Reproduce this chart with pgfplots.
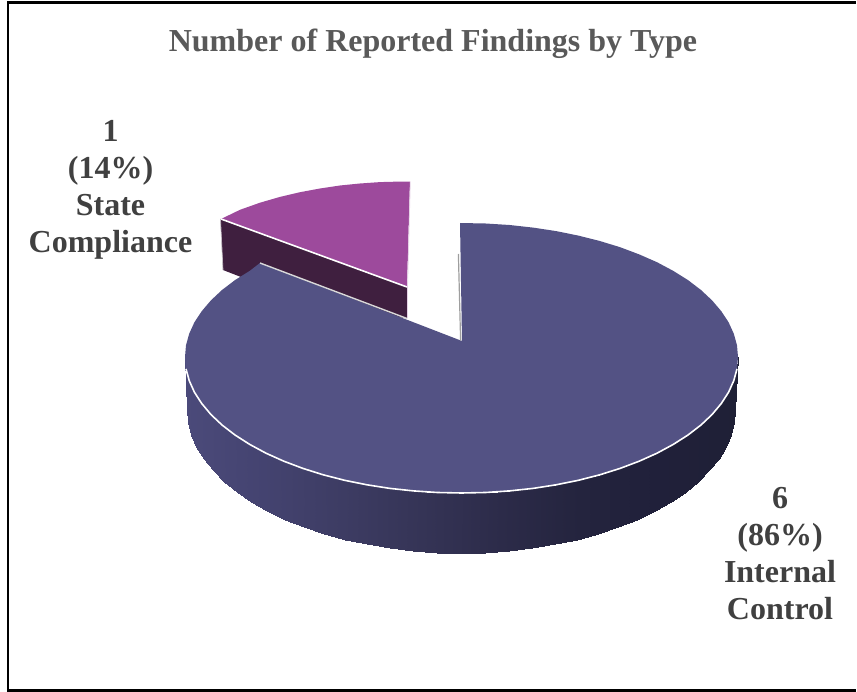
\documentclass[border=0pt]{standalone}
\usepackage{fontspec}
\setmainfont{Liberation Serif}
\usepackage{pgfplots}
\pgfplotsset{compat=1.18}

\definecolor{topblue}{RGB}{83,82,132}
\definecolor{toppurple}{RGB}{157,74,156}
\definecolor{sidepurple}{RGB}{63,31,63}
\definecolor{titlegray}{RGB}{89,89,89}
\definecolor{labelgray}{RGB}{64,64,64}

% values: Internal Control 6, State Compliance 1 (6/7 and 1/7 of the pie)
% all outlines are in reference pixels, y going down
\begin{document}
\begin{tikzpicture}
\begin{axis}[
    scale only axis,
    width=857pt,
    height=692pt,
    xmin=0, xmax=857,
    ymin=0, ymax=692,
    y dir=reverse,
    hide axis,
    clip=false,
    colormap={sidewall}{rgb255=(75,74,122) rgb255=(68,67,112) rgb255=(61,60,99) rgb255=(53,52,86)
        rgb255=(44,43,73) rgb255=(36,36,62) rgb255=(32,32,58) rgb255=(31,32,54)},
]
% hide axis leaves the box to what is drawn, so keep the page at full size
\path (axis cs:0,0) rectangle (axis cs:857,692);

% frame: runs off the right edge of the picture (square cap reaches x=857)
\addplot[black, line width=2.6pt, line cap=square] coordinates {(855.7,2.5) (8,2.5) (8,690.5) (855.7,690.5)};

% State Compliance: side then top
\addplot[fill=sidepurple, draw=none] coordinates {(220.5,219) (407,287) (407,318.5) (300,300) (223,270)} --cycle;
\addplot[fill=toppurple, draw=none] coordinates {
    (221,219) (240,209.8) (260,202.7) (280,196.9) (300,192.2) (320,188.5) (340,185.5)
    (360,183.5) (380,182.1) (395,181.7) (410,181.6) (407,287)} --cycle;
\addplot[white, line width=1.6pt] coordinates {(221,219) (407,287)};
\addplot[color=white!75!toppurple, line width=0.8pt] coordinates {(410.3,181.6) (407.5,287) (407.5,318)};
\addplot[color=white!70!sidepurple, line width=0.7pt] coordinates {(220.5,219) (223,270)};

% Internal Control: side wall
\addplot[surf, shader=interp, point meta=x, mesh/cols=2] table {
x y
738 357
735 410
737 368.9
734 422.5
733.8 380.6
730.8 434.8
728.6 392.2
725.7 447
721.3 403.5
718.5 458.9
712.1 414.5
709.3 470.4
701 425
698.3 481.5
688 435
685.5 492
673.3 444.4
670.9 501.9
657 453.2
654.7 511.1
639.2 461.2
637.1 519.5
620.1 468.4
618.2 527.1
599.8 474.8
598 533.8
578.4 480.3
576.8 539.6
556.1 484.8
554.7 544.4
533.1 488.4
531.9 548.1
509.5 490.9
508.6 550.8
485.6 492.5
484.9 552.5
461.5 493
461 553
437.4 492.5
437.1 552.5
413.5 490.9
413.4 550.8
389.9 488.4
390.1 548.1
366.9 484.8
367.3 544.4
344.6 480.3
345.2 539.6
323.2 474.8
324 533.8
302.9 468.4
303.8 527.1
283.8 461.2
284.9 519.5
266 453.2
267.3 511.1
249.7 444.4
251.1 501.9
235 435
236.5 492
222 425
223.7 481.5
210.9 414.5
212.7 470.4
201.7 403.5
203.5 458.9
194.4 392.2
196.3 447
189.2 380.6
191.2 434.8
186 368.9
188 422.5
185 357
187 410
};

% Internal Control: top
\addplot[fill=topblue, draw=none] coordinates {
    (460,223) (485.6,223.5) (509.5,225) (533.1,227.6) (556.1,231.1) (578.4,235.6) (599.8,241)
    (620.1,247.2) (639.2,254.4) (657,262.2) (673.3,270.9) (688,280.1) (701,290) (712.1,300.4)
    (721.3,311.2) (728.6,322.3) (733.8,333.7) (737,345.3) (738,357) (737,368.9) (733.8,380.6)
    (728.6,392.2) (721.3,403.5) (712.1,414.5) (701,425) (688,435) (673.3,444.4) (657,453.2)
    (639.2,461.2) (620.1,468.4) (599.8,474.8) (578.4,480.3) (556.1,484.8) (533.1,488.4)
    (509.5,490.9) (485.6,492.5) (461.5,493) (437.4,492.5) (413.5,490.9) (389.9,488.4)
    (366.9,484.8) (344.6,480.3) (323.2,474.8) (302.9,468.4) (283.8,461.2) (266,453.2)
    (249.7,444.4) (235,435) (222,425) (210.9,414.5) (201.7,403.5) (194.4,392.2) (189.2,380.6)
    (186,368.9) (185,357) (186,345.3) (189.2,333.7) (194.4,322.3) (201.7,311.2) (210.9,300.4)
    (222,290) (235,280.1) (249.7,270.9) (260,263) (462,341)} --cycle;

% rim highlights
\addplot[white, line width=1.6pt] coordinates {
    (737,368.9) (733.8,380.6)
    (728.6,392.2) (721.3,403.5) (712.1,414.5) (701,425) (688,435) (673.3,444.4) (657,453.2)
    (639.2,461.2) (620.1,468.4) (599.8,474.8) (578.4,480.3) (556.1,484.8) (533.1,488.4)
    (509.5,490.9) (485.6,492.5) (461.5,493) (437.4,492.5) (413.5,490.9) (389.9,488.4)
    (366.9,484.8) (344.6,480.3) (323.2,474.8) (302.9,468.4) (283.8,461.2) (266,453.2)
    (249.7,444.4) (235,435) (222,425) (210.9,414.5) (201.7,403.5) (194.4,392.2) (189.2,380.6)
    (186,368.9)};
\addplot[color=white!85!black, line width=1.4pt] coordinates {(260,263) (407,318.5)};
\addplot[color=white!62!black, line width=1.2pt] coordinates {(458.4,254) (460.6,340.5)};

% text
\node[font=\bfseries\fontsize{32}{37}\selectfont, text=titlegray, anchor=center] at (axis cs:433,44) {Number of Reported Findings by Type};
\node[font=\bfseries\fontsize{32}{37}\selectfont, text=labelgray, align=center, anchor=center] at (axis cs:110.5,190) {1\\(14\%)\\State\\Compliance};
\node[font=\bfseries\fontsize{32}{37}\selectfont, text=labelgray, align=center, anchor=center] at (axis cs:780,553.5) {6\\(86\%)\\Internal\\Control};
\end{axis}
\end{tikzpicture}
\end{document}
